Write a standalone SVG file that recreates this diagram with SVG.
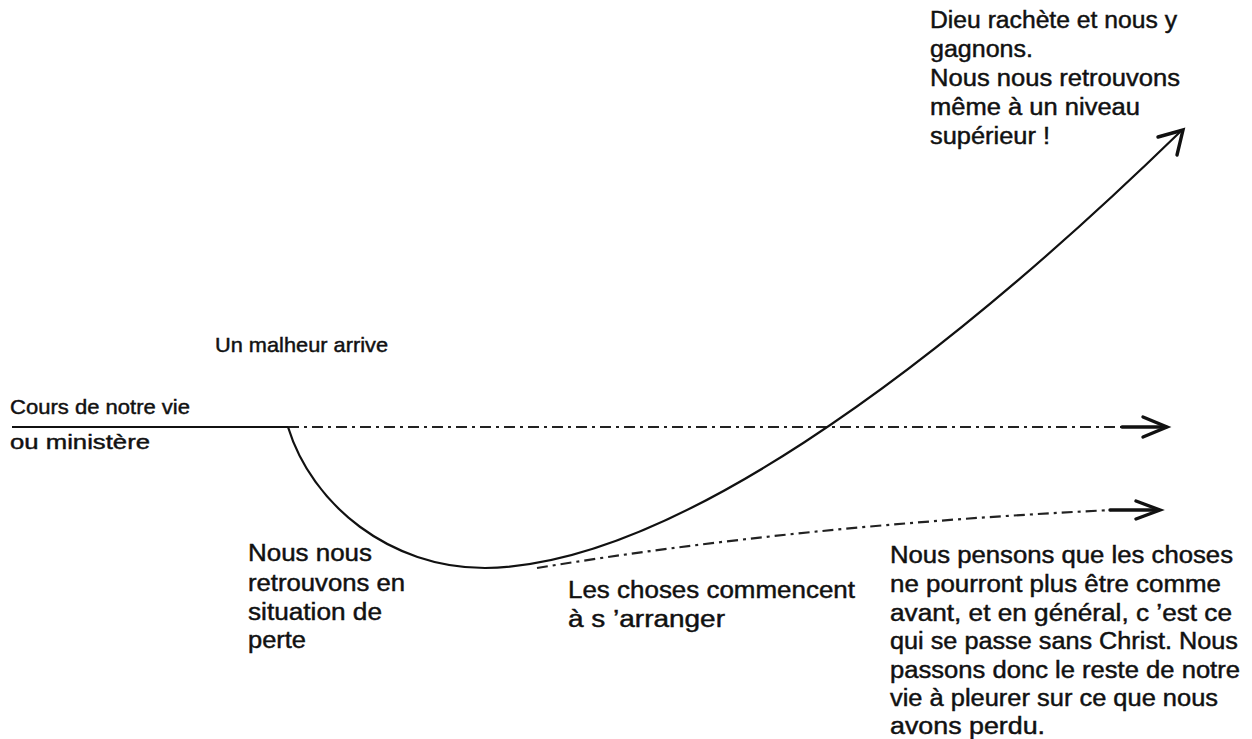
<svg xmlns="http://www.w3.org/2000/svg" width="1252" height="739" viewBox="0 0 1252 739">
<style>
text{font-family:"Liberation Sans",Arial,sans-serif;font-size:23px;fill:#111;stroke:#111;stroke-width:0.45}
.sm{font-size:21px}
.solid{fill:none;stroke:#111;stroke-width:2.2}
.dd{fill:none;stroke:#222;stroke-width:2.2;stroke-dasharray:11 5 3 5}
.head{fill:none;stroke:#111;stroke-width:3.4;stroke-linecap:round;stroke-linejoin:miter}
</style>
<rect width="1252" height="739" fill="#fff"/>
<g id="connectors">
<line class="solid" x1="12" y1="427" x2="288" y2="427"/>
<line class="dd" x1="288" y1="427" x2="1122" y2="427"/>
<line class="head" x1="1122" y1="427" x2="1166" y2="427"/>
<polyline class="head" points="1143,417 1167,427 1143,437"/>
<path class="solid" d="M288,427 C312,505 390,568 485,568 C665,566 925,380 1180,132"/>
<polyline class="head" points="1158,137 1183,130 1177,155"/>
<path class="dd" d="M537,568 Q800,525 1112,510"/>
<line class="head" x1="1110" y1="510" x2="1158" y2="510"/>
<polyline class="head" points="1136,501 1160,510 1136,519"/>
</g>
<g id="node-top">
<text x="930" y="28" textLength="247" lengthAdjust="spacingAndGlyphs">Dieu rachète et nous y</text>
<text x="930" y="57" textLength="103" lengthAdjust="spacingAndGlyphs">gagnons.</text>
<text x="930" y="86" textLength="250" lengthAdjust="spacingAndGlyphs">Nous nous retrouvons</text>
<text x="930" y="115" textLength="210" lengthAdjust="spacingAndGlyphs">même à un niveau</text>
<text x="930" y="144" textLength="120" lengthAdjust="spacingAndGlyphs">supérieur !</text>
</g>
<g id="node-malheur">
<text class="sm" x="215" y="352" textLength="173" lengthAdjust="spacingAndGlyphs">Un malheur arrive</text>
</g>
<g id="node-cours">
<text class="sm" x="10" y="414" textLength="180" lengthAdjust="spacingAndGlyphs">Cours de notre vie</text>
<text class="sm" x="10" y="449" textLength="140" lengthAdjust="spacingAndGlyphs">ou ministère</text>
</g>
<g id="node-perte">
<text x="248" y="561" textLength="124" lengthAdjust="spacingAndGlyphs">Nous nous</text>
<text x="248" y="591" textLength="157" lengthAdjust="spacingAndGlyphs">retrouvons en</text>
<text x="248" y="620" textLength="134" lengthAdjust="spacingAndGlyphs">situation de</text>
<text x="248" y="648" textLength="58" lengthAdjust="spacingAndGlyphs">perte</text>
</g>
<g id="node-arranger">
<text x="568" y="598" textLength="287" lengthAdjust="spacingAndGlyphs">Les choses commencent</text>
<text x="568" y="627" textLength="157" lengthAdjust="spacingAndGlyphs">à s ’arranger</text>
</g>
<g id="node-pensons">
<text x="890" y="563" textLength="343" lengthAdjust="spacingAndGlyphs">Nous pensons que les choses</text>
<text x="890" y="592" textLength="331" lengthAdjust="spacingAndGlyphs">ne pourront plus être comme</text>
<text x="890" y="621" textLength="342" lengthAdjust="spacingAndGlyphs">avant, et en général, c ’est ce</text>
<text x="890" y="649" textLength="348" lengthAdjust="spacingAndGlyphs">qui se passe sans Christ. Nous</text>
<text x="890" y="678" textLength="350" lengthAdjust="spacingAndGlyphs">passons donc le reste de notre</text>
<text x="890" y="706" textLength="328" lengthAdjust="spacingAndGlyphs">vie à pleurer sur ce que nous</text>
<text x="890" y="734" textLength="155" lengthAdjust="spacingAndGlyphs">avons perdu.</text>
</g>
</svg>
